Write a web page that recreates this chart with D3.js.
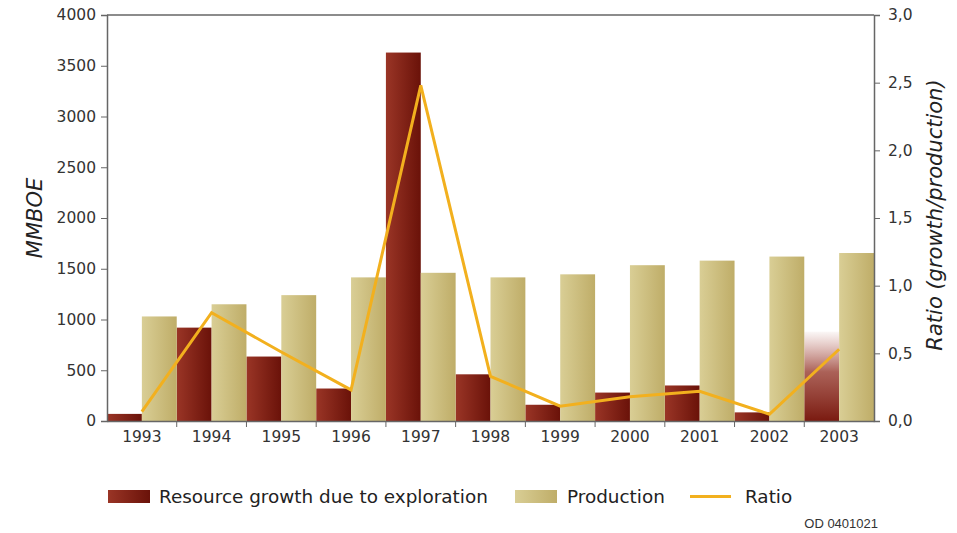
<!DOCTYPE html>
<html><head><meta charset="utf-8">
<script src="https://cdn.jsdelivr.net/npm/d3@7"></script>
<style>body{margin:0;background:#fff}svg{display:block}</style>
</head><body>
<script>
const years = ["1993","1994","1995","1996","1997","1998","1999","2000","2001","2002","2003"];
const growth = [70, 920, 635, 320, 3630, 460, 160, 280, 350, 85, 880];
const production = [1030, 1150, 1240, 1415, 1460, 1415, 1445, 1535, 1580, 1620, 1655];
const ratio = [0.07, 0.80, 0.51, 0.23, 2.48, 0.33, 0.11, 0.18, 0.22, 0.05, 0.53];
const leftTicks = [0, 500, 1000, 1500, 2000, 2500, 3000, 3500, 4000];
const rightTicks = [0, 0.5, 1.0, 1.5, 2.0, 2.5, 3.0];
const seriesNames = ["Resource growth due to exploration", "Production", "Ratio"];
const estimatedYear = "2003";

const W = 957, H = 533;
const m = {left: 107, right: 957 - 874, top: 15, bottom: 533 - 421};
const svg = d3.select("body").append("svg").attr("width", W).attr("height", H);
const defs = svg.append("defs");

function hgrad(id, c1, c2) {
  const g = defs.append("linearGradient").attr("id", id).attr("x1", 0).attr("x2", 1).attr("y1", 0).attr("y2", 0);
  g.append("stop").attr("offset", 0).attr("stop-color", c1);
  g.append("stop").attr("offset", 1).attr("stop-color", c2);
}
hgrad("gRed", "#9a3526", "#6a1209");
hgrad("gProd", "#d9ce95", "#bfad68");
const vg = defs.append("linearGradient").attr("id", "gEst").attr("x1", 0).attr("x2", 0).attr("y1", 1).attr("y2", 0);
vg.append("stop").attr("offset", 0).attr("stop-color", "#7a1a10").attr("stop-opacity", 1);
vg.append("stop").attr("offset", 0.55).attr("stop-color", "#963a2e").attr("stop-opacity", 0.8);
vg.append("stop").attr("offset", 1).attr("stop-color", "#b05a50").attr("stop-opacity", 0.05);

const x = d3.scaleBand().domain(years).range([m.left, W - m.right]).padding(0);
const yL = d3.scaleLinear().domain([0, 4000]).range([H - m.bottom, m.top]);
const yR = d3.scaleLinear().domain([0, 3]).range([H - m.bottom, m.top]);
const half = x.bandwidth() / 2;

const font = "'DejaVu Sans', Verdana, sans-serif";

// bars
svg.append("g").selectAll("rect").data(years).join("rect")
  .attr("x", d => x(d)).attr("width", half)
  .attr("y", (d, i) => yL(growth[i])).attr("height", (d, i) => yL(0) - yL(growth[i]))
  .attr("fill", d => d === estimatedYear ? "url(#gEst)" : "url(#gRed)");
svg.append("g").selectAll("rect").data(years).join("rect")
  .attr("x", d => x(d) + half).attr("width", half)
  .attr("y", (d, i) => yL(production[i])).attr("height", (d, i) => yL(0) - yL(production[i]))
  .attr("fill", "url(#gProd)");

// line
const line = d3.line().x((d, i) => x(years[i]) + half).y(d => yR(d));
svg.append("path").datum(ratio).attr("d", line).attr("fill", "none")
  .attr("stroke", "#f2b01e").attr("stroke-width", 3).attr("stroke-linejoin", "miter");

// axes
const axisColor = "#666";
const gl = svg.append("g").attr("transform", `translate(${m.left},0)`)
  .call(d3.axisLeft(yL).tickValues(leftTicks).tickSize(6).tickPadding(5).tickFormat(d3.format("d")));
const gr = svg.append("g").attr("transform", `translate(${W - m.right},0)`)
  .call(d3.axisRight(yR).tickValues(rightTicks).tickSize(6).tickPadding(8).tickFormat(d => d.toFixed(1).replace(".", ",")));
const gb = svg.append("g").attr("transform", `translate(0,${H - m.bottom})`)
  .call(d3.axisBottom(x).tickSize(0).tickPadding(10));
gb.selectAll(".sep").data(years.slice(1)).join("line").attr("class", "sep")
  .attr("x1", d => x(d)).attr("x2", d => x(d)).attr("y1", 0).attr("y2", 6).attr("stroke", axisColor);
[gl, gr, gb].forEach(g => {
  g.selectAll("path.domain").attr("stroke", axisColor).attr("stroke-width", 1.5);
  g.selectAll(".tick line").attr("stroke", axisColor);
  g.selectAll("text").attr("font-family", font).attr("font-size", 15.5).attr("fill", "#333");
});
svg.append("line").attr("x1", m.left).attr("x2", W - m.right).attr("y1", m.top).attr("y2", m.top)
  .attr("stroke", axisColor).attr("stroke-width", 1.5);

// axis titles
svg.append("text").attr("transform", `translate(42,${(m.top + H - m.bottom) / 2}) rotate(-90)`)
  .attr("text-anchor", "middle").attr("font-family", font).attr("font-style", "italic")
  .attr("font-size", 21).attr("fill", "#222").text("MMBOE");
svg.append("text").attr("transform", `translate(942,${(m.top + H - m.bottom) / 2 - 3}) rotate(-90)`)
  .attr("text-anchor", "middle").attr("font-family", font).attr("font-style", "italic")
  .attr("font-size", 21).attr("fill", "#222").text("Ratio (growth/production)");

// legend
const lg = svg.append("g").attr("font-family", font).attr("font-size", 18.4).attr("fill", "#222");
lg.append("rect").attr("x", 108).attr("y", 490).attr("width", 42).attr("height", 13).attr("fill", "url(#gRed)");
lg.append("text").attr("x", 159).attr("y", 503).text(seriesNames[0]);
lg.append("rect").attr("x", 515).attr("y", 490).attr("width", 42).attr("height", 13).attr("fill", "url(#gProd)");
lg.append("text").attr("x", 567).attr("y", 503).text(seriesNames[1]);
lg.append("line").attr("x1", 690).attr("x2", 731).attr("y1", 496.5).attr("y2", 496.5).attr("stroke", "#f2b01e").attr("stroke-width", 3);
lg.append("text").attr("x", 745).attr("y", 503).text(seriesNames[2]);

svg.append("text").attr("x", 878).attr("y", 528).attr("text-anchor", "end")
  .attr("font-family", "'Liberation Sans', Arial, sans-serif").attr("font-size", 13).attr("fill", "#333").text("OD 0401021");
</script>
</body></html>
